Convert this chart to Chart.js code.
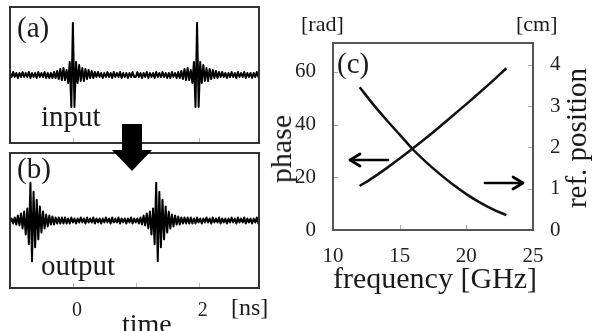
<!DOCTYPE html>
<html><head><meta charset="utf-8">
<script src="https://cdn.jsdelivr.net/npm/chart.js@4.4.1/dist/chart.umd.min.js"></script>
<style>
html,body{margin:0;padding:0;background:#fff;}
body{width:592px;height:331px;position:relative;overflow:hidden;font-family:"Liberation Serif","Times New Roman",serif;color:#1a1a1a;}
canvas{position:absolute;}
.t{position:absolute;line-height:1;white-space:nowrap;}
.r{transform:translate(-50%,-50%) rotate(-90deg);}
svg{position:absolute;left:0;top:0;}
</style></head><body>
<canvas id="ca" width="253" height="140" style="left:8px;top:5px"></canvas>
<canvas id="cb" width="253" height="180" style="left:8px;top:151px"></canvas>
<canvas id="cc" width="330" height="331" style="left:262px;top:0px"></canvas>

<div class="t" style="font-size:29px;left:17px;top:13px">(a)</div>
<div class="t" style="font-size:29px;left:41px;top:102px">input</div>
<div class="t" style="font-size:29px;left:17px;top:154px">(b)</div>
<div class="t" style="font-size:29px;left:41px;top:251px">output</div>
<div class="t" style="font-size:28px;left:122px;top:310px">time</div>
<div class="t" style="font-size:24px;left:231px;top:295px">[ns]</div>
<div class="t" style="font-size:29px;left:337px;top:49px">(c)</div>
<div class="t" style="font-size:22px;left:301px;top:13px">[rad]</div>
<div class="t" style="font-size:22px;left:516px;top:13px">[cm]</div>
<div class="t" style="font-size:30px;left:333px;top:263px">frequency [GHz]</div>
<div class="t r" style="font-size:30px;left:281px;top:149px">phase</div>
<div class="t r" style="font-size:29px;left:576px;top:138px">ref. position</div>

<svg width="592" height="331">
  <rect x="122" y="124" width="20" height="27" fill="#000"/>
  <polygon points="112,150 152,150 132,171" fill="#000"/>
  <g stroke="#000" stroke-width="2.7" fill="none" stroke-linecap="round" stroke-linejoin="round">
    <line x1="351" y1="160" x2="388" y2="160"/>
    <polyline points="360,154 350,160 360,166"/>
    <line x1="485" y1="183" x2="522" y2="183"/>
    <polyline points="513,177 523,183 513,189"/>
  </g>
</svg>

<script>
// ---------- data ----------
const timeStart = -1.0;      // ns, first sample
const timeStep = 0.025;      // ns between samples
const timeTicks = [0, 1, 2];
const timeTickLabels = ['0', '', '2'];

const inputSignal = [
  2,-2,3,-2,2,-3,2,-2,3,-2,2,-2,3,-3,2,-2,2,-3,3,-2,2,-2,3,-3,2,-3,
  2,-3,3,-3,4,-4,6,-5,7,-5,5,-8,13,-32,52,-32,13,-8,10,-6,7,-6,6,-4,5,-3,4,-3,3,
  -2,3,-2,2,-3,2,-2,3,-2,2,-3,3,-2,2,-2,3,-3,2,-2,2,-3,2,-2,3,-2,
  -2,3,-2,2,-3,2,-2,3,-3,2,-2,2,-3,3,-2,2,-2,3,-2,2,-3,2,-3,3,-2,
  2,-3,3,-3,4,-4,6,-5,7,-5,5,-8,13,-32,52,-32,13,-8,10,-6,7,-6,6,-4,5,-3,4,-3,3,
  -2,3,-2,2,-3,2,-2,3,-2,2,-3,3,-2,2,-2,3,-3,2,-2,2,-3,2,-2,3,-2,2,-3
];

const outputSignal = [
  -2,
  2,-3,3,-4,5,-5,7,-8,9,-14,12,-24,38,-41,29,-27,21,-19,14,-12,9,-8,6,-6,5,-4,4,-4,3,-3,3,-3,3,
  -3,3,-3,2,-3,3,-2,2,-3,2,-2,3,-2,2,-3,3,-2,2,-2,3,-3,2,-2,2,-3,2,-2,3,-2,2,-3,3,-2,2,-2,3,-3,2,-2,2,-3,2,-2,3,-3,2,-2,
  2,-3,3,-4,5,-5,7,-8,9,-14,12,-24,38,-41,29,-27,21,-19,14,-12,9,-8,6,-6,5,-4,4,-4,3,-3,3,-3,3,
  -3,3,-3,2,-3,3,-2,2,-3,2,-2,3,-2,2,-3,3,-2,2,-2,3,-3,2,-2,2,-3,2,-2,3,-2,2,-3,3,-2,2,-2,3,-3,2,-2,2,-3,2,-2,3,-3,2,-2
];

const frequency = [12, 13, 14, 15, 16, 17, 18, 19, 20, 21, 22, 23];          // GHz
const phase = [16.7, 19.9, 23.4, 27.1, 31.0, 35.0, 39.2, 43.5, 47.8, 52.2, 56.7, 61.4]; // rad
const refPosition = [3.46, 3.05, 2.67, 2.31, 1.95, 1.64, 1.36, 1.10, 0.87, 0.67, 0.50, 0.36]; // cm

const freqTicks = [10, 15, 20, 25];
const phaseTicks = [0, 20, 40, 60];
const refTicks = [0, 1, 2, 3, 4];

// ---------- helpers ----------
const times = inputSignal.map((_, i) => timeStart + i * timeStep);
const toXY = (xs, ys) => ys.map((y, i) => ({x: xs[i], y}));

const framePlugin = {
  id: 'frame',
  afterDatasetsDraw(chart, args, opts) {
    const {ctx, chartArea: a} = chart;
    ctx.save();
    ctx.strokeStyle = opts.tickColor || '#aaa';
    ctx.lineWidth = 1;
    (opts.marks || []).forEach(m => {
      const s = chart.scales[m.scale];
      m.values.forEach(v => {
        const p = Math.round(s.getPixelForValue(v)) + 0.5;
        ctx.beginPath();
        if (m.side === 'bottom') { ctx.moveTo(p, a.bottom); ctx.lineTo(p, a.bottom - m.len); }
        else if (m.side === 'left') { ctx.moveTo(a.left, p); ctx.lineTo(a.left + m.len, p); }
        else if (m.side === 'right') { ctx.moveTo(a.right, p); ctx.lineTo(a.right - m.len, p); }
        ctx.stroke();
      });
    });
    ctx.strokeStyle = opts.color || '#444';
    ctx.lineWidth = opts.width || 2;
    ctx.strokeRect(a.left, a.top, a.right - a.left, a.bottom - a.top);
    ctx.restore();
  }
};

const waveFont = {family: 'Liberation Serif', size: 20};
const tickFont = {family: 'Liberation Serif', size: 21};
const setTicks = arr => scale => { scale.ticks = arr.map(v => ({value: v})); };
const noGrid = {display: false, drawTicks: false, tickLength: 0};

function waveChart(id, signal, showAxis) {
  return new Chart(document.getElementById(id), {
    type: 'line',
    data: {datasets: [{
      data: toXY(times, signal),
      borderColor: '#000', borderWidth: 2, pointRadius: 0,
      borderJoinStyle: 'round', tension: 0
    }]},
    options: {
      responsive: false, animation: false, devicePixelRatio: 1,
      layout: {padding: {left: 2, right: 2, top: 2, bottom: showAxis ? 0 : 2}},
      plugins: {legend: {display: false}, tooltip: {enabled: false},
        frame: {color: '#333', width: 2, tickColor: '#bbb',
          marks: [{scale: 'x', values: timeTicks, side: 'bottom', len: 5}]}},
      scales: {
        x: {type: 'linear', min: -1, max: 2.96, display: showAxis,
          afterBuildTicks: setTicks(timeTicks),
          afterFit: s => { s.height = showAxis ? 43 : 0; },
          grid: noGrid, border: {display: false},
          ticks: {font: waveFont, color: '#222', padding: 11, labelOffset: 4,
            maxRotation: 0, autoSkip: false,
            callback: (v, i) => timeTickLabels[i]}},
        y: {type: 'linear', min: -68, max: 68, display: false}
      }
    },
    plugins: [framePlugin]
  });
}

waveChart('ca', inputSignal, false);
waveChart('cb', outputSignal, true);

new Chart(document.getElementById('cc'), {
  type: 'line',
  data: {datasets: [
    {data: toXY(frequency, phase), yAxisID: 'y', borderColor: '#111', borderWidth: 2.5,
     pointRadius: 0, cubicInterpolationMode: 'monotone'},
    {data: toXY(frequency, refPosition), yAxisID: 'y1', borderColor: '#111', borderWidth: 2.5,
     pointRadius: 0, cubicInterpolationMode: 'monotone'}
  ]},
  options: {
    responsive: false, animation: false, devicePixelRatio: 1,
    layout: {padding: {top: 43, left: 0, right: 0, bottom: 0}},
    plugins: {legend: {display: false}, tooltip: {enabled: false},
      frame: {color: '#555', width: 2, tickColor: '#aaa',
        marks: [
          {scale: 'x', values: freqTicks, side: 'bottom', len: 5},
          {scale: 'y', values: phaseTicks, side: 'left', len: 5},
          {scale: 'y1', values: refTicks, side: 'right', len: 5}
        ]}},
    scales: {
      x: {type: 'linear', min: 10, max: 25, position: 'bottom',
        afterBuildTicks: setTicks(freqTicks),
        afterFit: s => { s.height = 101; },
        grid: noGrid, border: {display: false},
        ticks: {font: tickFont, color: '#222', padding: 14, maxRotation: 0, autoSkip: false}},
      y: {type: 'linear', min: 0, max: 71, position: 'left',
        afterBuildTicks: setTicks(phaseTicks),
        afterFit: s => { s.width = 71; },
        grid: noGrid, border: {display: false},
        ticks: {font: tickFont, color: '#222', padding: 17}},
      y1: {type: 'linear', min: 0, max: 4.53, position: 'right',
        afterBuildTicks: setTicks(refTicks),
        afterFit: s => { s.width = 59; },
        grid: noGrid, border: {display: false},
        ticks: {font: tickFont, color: '#222', padding: 17}}
    }
  },
  plugins: [framePlugin]
});
</script>
</body></html>
